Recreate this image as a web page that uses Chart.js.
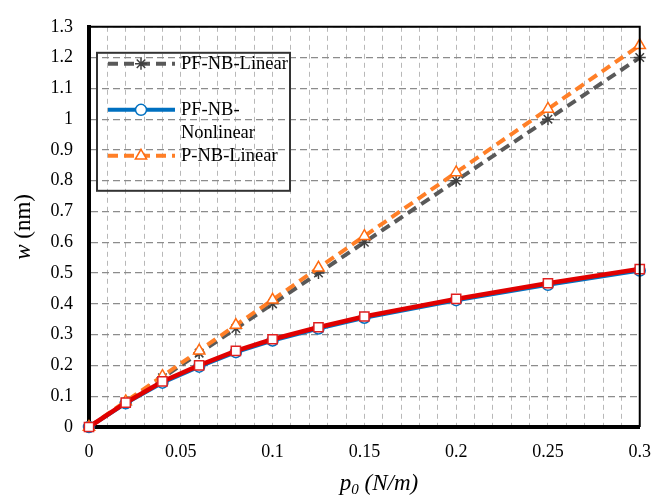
<!DOCTYPE html>
<html>
<head>
<meta charset="utf-8">
<script src="https://cdn.jsdelivr.net/npm/chart.js"></script>
<style>
  html, body { margin: 0; padding: 0; background: #fff; }
  #wrap { width: 665px; height: 497px; }
</style>
</head>
<body>
<div id="wrap"><canvas id="chart" width="665" height="497"></canvas></div>
<script>
// data
const loads = [0, 0.02, 0.04, 0.06, 0.08, 0.1, 0.125, 0.15, 0.2, 0.25, 0.3];
const pfLinear = [0, 0.08, 0.16, 0.24, 0.32, 0.40, 0.50, 0.60, 0.80, 1.00, 1.20];
const pfNonlinear = [0, 0.077, 0.144, 0.196, 0.243, 0.281, 0.320, 0.355, 0.412, 0.462, 0.508];
const pLinear = [0, 0.083, 0.165, 0.248, 0.331, 0.413, 0.517, 0.62, 0.827, 1.033, 1.24];
const pNonlinear = [0, 0.079, 0.148, 0.200, 0.247, 0.285, 0.324, 0.359, 0.416, 0.467, 0.513];
const seriesNames = ["PF-NB-Linear", "PF-NB-Nonlinear", "P-NB-Linear", "P-NB-Nonlinear"];
const yTicks = [0, 0.1, 0.2, 0.3, 0.4, 0.5, 0.6, 0.7, 0.8, 0.9, 1, 1.1, 1.2, 1.3];

const serif = "'Liberation Serif', 'DejaVu Serif', serif";

function pts(ys) {
  return loads.map((x, i) => ({ x: x, y: ys[i] }));
}

// legend text (two rows for the long one)
const legendRows = [
  { ds: 0, lines: ["PF-NB-Linear"] },
  { ds: 1, lines: ["PF-NB-", "Nonlinear"] },
  { ds: 2, lines: ["P-NB-Linear"] }
];

function marker(ctx, ds, x, y) {
  const o = {
    pointStyle: ds.pointStyle,
    radius: ds.pointRadius,
    rotation: 0,
    borderWidth: ds.pointBorderWidth
  };
  ctx.save();
  ctx.setLineDash([]);
  ctx.fillStyle = ds.pointBackgroundColor;
  ctx.strokeStyle = ds.pointBorderColor;
  ctx.lineWidth = ds.pointBorderWidth;
  Chart.helpers.drawPoint(ctx, o, x, y);
  ctx.restore();
}

const extras = {
  id: "extras",
  afterDraw(chart) {
    const ctx = chart.ctx;
    const a = chart.chartArea;

    // thin frame on top / right
    ctx.save();
    ctx.strokeStyle = "#000";
    ctx.lineWidth = 2;
    ctx.beginPath();
    ctx.moveTo(a.left, a.top);
    ctx.lineTo(a.right, a.top);
    ctx.lineTo(a.right, a.bottom);
    ctx.stroke();
    ctx.restore();

    // legend box
    const bx = a.left + 8, by = a.top + 26, bw = 193, bh = 138;
    ctx.save();
    ctx.strokeStyle = "#333";
    ctx.lineWidth = 2;
    ctx.strokeRect(bx, by, bw, bh);
    ctx.font = "18.5px " + serif;
    ctx.fillStyle = "#000";
    ctx.textBaseline = "middle";
    const rowY = [by + 11, by + 57, by + 103];
    legendRows.forEach((row, k) => {
      const ds = chart.data.datasets[row.ds];
      const y = rowY[k];
      ctx.save();
      ctx.strokeStyle = ds.borderColor;
      ctx.lineWidth = ds.borderWidth;
      ctx.setLineDash(ds.borderDash || []);
      ctx.beginPath();
      ctx.moveTo(bx + 11, y);
      ctx.lineTo(bx + 78, y);
      ctx.stroke();
      ctx.restore();
      marker(ctx, ds, bx + 44, y);
      row.lines.forEach((t, j) => {
        ctx.fillText(t, bx + 84, y + j * 23);
      });
    });
    ctx.restore();

    // axis titles
    ctx.save();
    ctx.fillStyle = "#000";
    ctx.textBaseline = "alphabetic";
    // y title: w (nm)
    ctx.translate(30, (a.top + a.bottom) / 2);
    ctx.rotate(-Math.PI / 2);
    const f1 = "italic 23px " + serif, f2 = "23px " + serif;
    ctx.font = f1; const w1 = ctx.measureText("w").width;
    ctx.font = f2; const w2 = ctx.measureText(" (nm)").width;
    let sx = -(w1 + w2) / 2;
    ctx.font = f1; ctx.fillText("w", sx, 0);
    ctx.font = f2; ctx.fillText(" (nm)", sx + w1, 0);
    ctx.restore();

    ctx.save();
    ctx.fillStyle = "#000";
    const fx = "italic 23px " + serif, fs = "italic 15px " + serif;
    ctx.font = fx; const pw = ctx.measureText("p").width;
    ctx.font = fs; const zw = ctx.measureText("0").width;
    ctx.font = fx; const rw = ctx.measureText(" (N/m)").width;
    let tx = 379 - (pw + zw + rw) / 2;
    const base = 490;
    ctx.font = fx; ctx.fillText("p", tx, base);
    ctx.font = fs; ctx.fillText("0", tx + pw, base + 4);
    ctx.font = fx; ctx.fillText(" (N/m)", tx + pw + zw, base);
    ctx.restore();
  }
};

new Chart(document.getElementById("chart"), {
  type: "line",
  data: {
    datasets: [
      {
        label: seriesNames[0], data: pts(pfLinear), order: 3,
        borderColor: "#595959", borderWidth: 4, borderDash: [10, 6],
        pointStyle: "star", pointRadius: 6, pointBorderWidth: 1.5,
        pointBorderColor: "#404040", pointBackgroundColor: "#404040"
      },
      {
        label: seriesNames[1], data: pts(pfNonlinear), order: 2,
        borderColor: "#0070C0", borderWidth: 4,
        pointStyle: "circle", pointRadius: 5.5, pointBorderWidth: 1.5,
        pointBorderColor: "#0070C0", pointBackgroundColor: "#fff"
      },
      {
        label: seriesNames[2], data: pts(pLinear), order: 1,
        borderColor: "#FF7F27", borderWidth: 4, borderDash: [10, 6],
        pointStyle: "triangle", pointRadius: 6.5, pointBorderWidth: 1.5,
        pointBorderColor: "#FF6A10", pointBackgroundColor: "#fff"
      },
      {
        label: seriesNames[3], data: pts(pNonlinear), order: 0,
        borderColor: "#E00000", borderWidth: 4.5,
        pointStyle: "rect", pointRadius: 6.5, pointBorderWidth: 1.5,
        pointBorderColor: "#E02020", pointBackgroundColor: "#fff"
      }
    ]
  },
  options: {
    responsive: false,
    animation: false,
    devicePixelRatio: 1,
    layout: { padding: { left: 0, right: 12, top: 22, bottom: 0 } },
    elements: { line: { tension: 0, fill: false } },
    datasets: { line: { clip: false } },
    plugins: { legend: { display: false }, tooltip: { enabled: false } },
    scales: {
      x: {
        type: "linear", min: 0, max: 0.3,
        afterFit(s) { s.height = 70; },
        ticks: {
          stepSize: 0.01, autoSkip: false, maxRotation: 0, padding: 14,
          color: "#000", font: { family: serif, size: 18 },
          callback(v) {
            return Math.round(v * 100) % 5 === 0 ? String(Number(v.toFixed(2))) : "";
          }
        },
        grid: { color: "#b8b8b8", lineWidth: 1, drawTicks: false },
        border: { display: true, color: "#000", width: 4, dash: [5, 4] }
      },
      y: {
        min: 0, max: 1.3,
        afterFit(s) { s.width = 89; },
        afterBuildTicks(s) { s.ticks = yTicks.map(v => ({ value: v })); },
        ticks: {
          padding: 16, color: "#000", font: { family: serif, size: 18 },
          callback(v) { return String(Number(v.toFixed(1))); }
        },
        grid: { color: "#8c8c8c", lineWidth: 1.3, drawTicks: false },
        border: { display: true, color: "#000", width: 4, dash: [7, 4] }
      }
    }
  },
  plugins: [extras]
});
</script>
</body>
</html>
